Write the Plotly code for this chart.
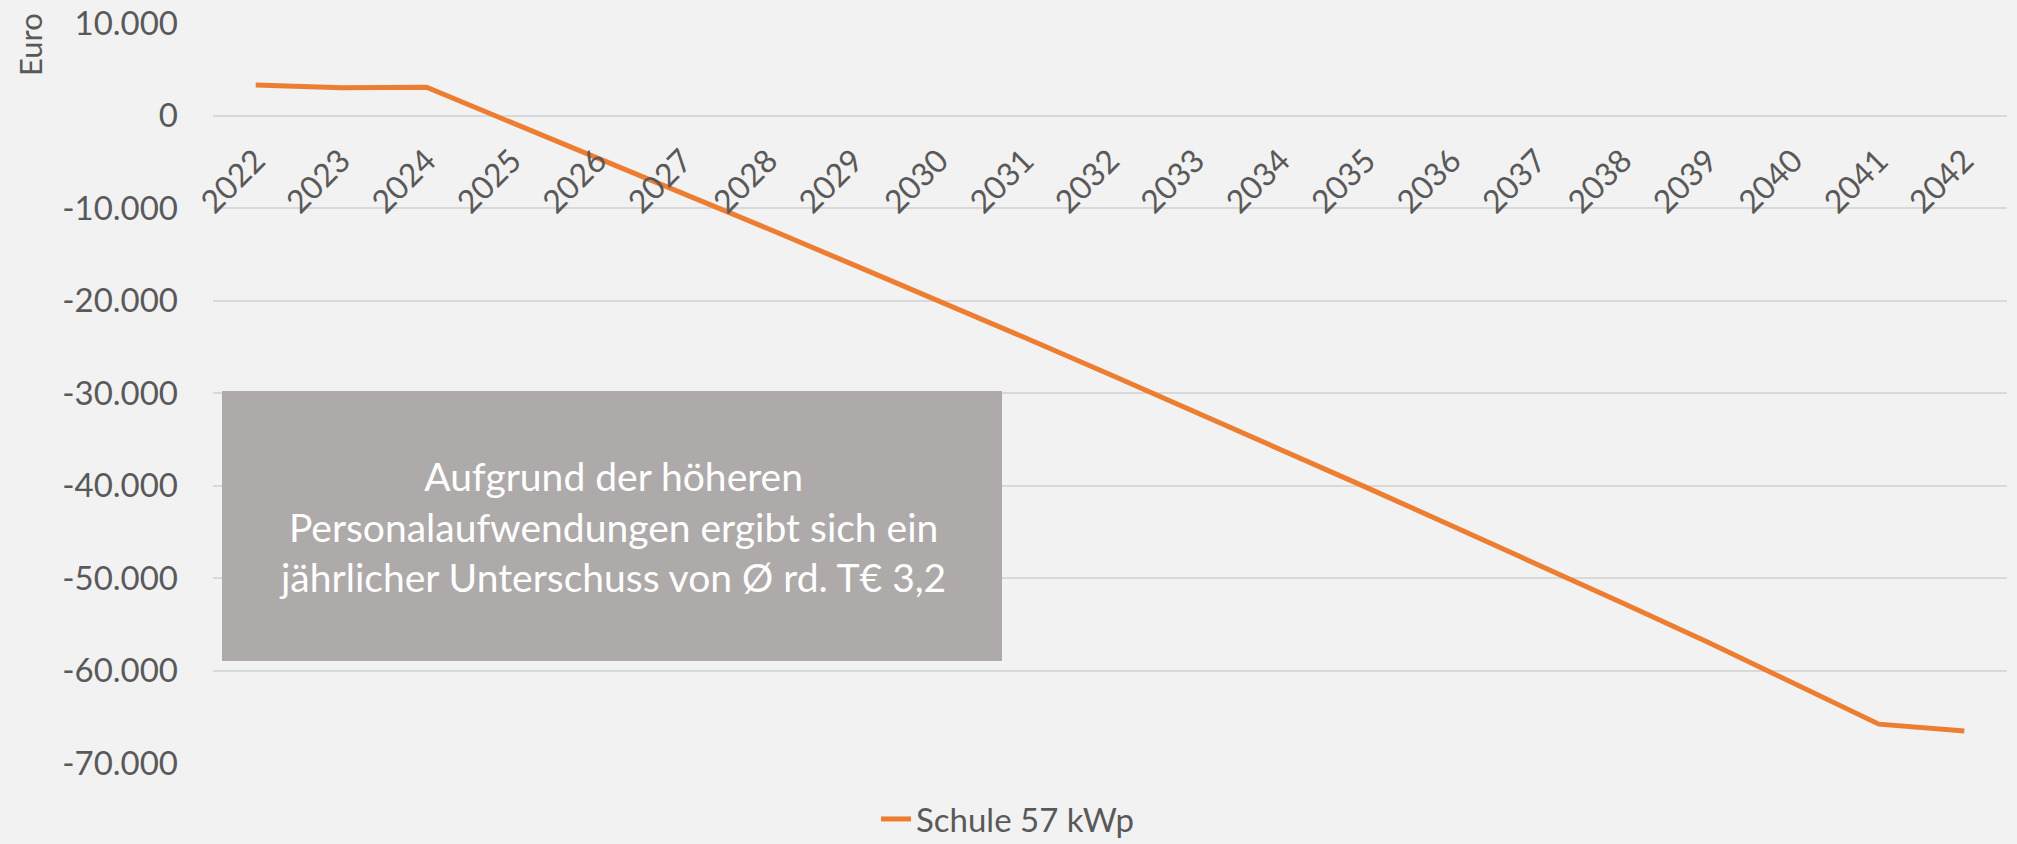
import plotly.graph_objects as go

years = [str(y) for y in range(2022, 2043)]
values = [3300, 3000, 3050, -750, -4550, -8400, -12250, -16150, -20050, -24000,
          -28000, -32050, -36100, -40200, -44350, -48500, -52700, -56950, -61350,
          -65800, -66550]
series_name = "Schule 57 kWp"
y_tickvals = [10000, 0, -10000, -20000, -30000, -40000, -50000, -60000, -70000]
y_ticktext = ["10.000", "0", "-10.000", "-20.000", "-30.000", "-40.000",
              "-50.000", "-60.000", "-70.000"]
y_title = "Euro"
note_text = ("Aufgrund der höheren<br>Personalaufwendungen ergibt sich ein<br>"
             "jährlicher Unterschuss von Ø rd. T€ 3,2")

W, H = 2017, 844
ml, mr, mt, mb = 213, 10, 23, 81
pw, ph = W - ml - mr, H - mt - mb
ymin, ymax = -70000, 10000

FONT = "Lato"
GREY = "#595959"
BG = "#F2F2F2"

fig = go.Figure()
fig.add_trace(go.Scatter(
    x=years, y=values, mode="lines", name=series_name,
    line=dict(color="#ED7D31", width=5),
))

def px_to_paper_x(px):
    return (px - ml) / pw

def px_to_paper_y(py):
    return (H - mb - py) / ph

zero_pos = (0 - ymin) / (ymax - ymin)

fig.update_layout(
    width=W, height=H,
    margin=dict(l=ml, r=mr, t=mt, b=mb, autoexpand=False),
    paper_bgcolor=BG, plot_bgcolor=BG,
    font=dict(family=FONT, color=GREY, size=32),
    showlegend=True,
    legend=dict(orientation="h", x=px_to_paper_x(1008), xanchor="center",
                y=px_to_paper_y(791), yanchor="top",
                borderwidth=0, tracegroupgap=0,
                font=dict(size=33, color=GREY), bgcolor="rgba(0,0,0,0)"),
    xaxis=dict(type="category", range=[-0.5, len(years) - 0.5],
               showgrid=False, zeroline=False, showline=False,
               ticks="", tickangle=-45, tickfont=dict(size=32, color=GREY),
               anchor="free", position=zero_pos, ticklabelstandoff=19,
               automargin=False),
    yaxis=dict(range=[ymin, ymax], tickvals=y_tickvals, ticktext=y_ticktext,
               showgrid=True, gridcolor="#D9D9D9", gridwidth=2,
               zeroline=False, showline=False, ticks="",
               tickfont=dict(size=33, color=GREY), ticklabelstandoff=34,
               automargin=False),
)

fig.add_shape(type="rect", xref="paper", yref="paper",
              x0=px_to_paper_x(222), x1=px_to_paper_x(1002),
              y0=px_to_paper_y(661), y1=px_to_paper_y(391),
              fillcolor="#AEAAAA", line=dict(width=0), layer="above")

fig.add_annotation(xref="paper", yref="paper",
                   x=px_to_paper_x(612), y=px_to_paper_y(526),
                   xanchor="center", yanchor="middle", showarrow=False,
                   text=note_text, align="center",
                   font=dict(family=FONT, size=39, color="white"))

fig.add_annotation(xref="paper", yref="paper",
                   x=px_to_paper_x(30), y=px_to_paper_y(45),
                   xanchor="center", yanchor="middle", showarrow=False,
                   text=y_title, textangle=-90,
                   font=dict(family=FONT, size=31, color=GREY))

fig.write_html(
    "out.html",
    config={"displayModeBar": False},
    post_script="document.body.style.margin='0';document.body.style.padding='0';"
                "document.body.style.background='#F2F2F2';"
                "document.body.style.overflow='hidden';",
)
